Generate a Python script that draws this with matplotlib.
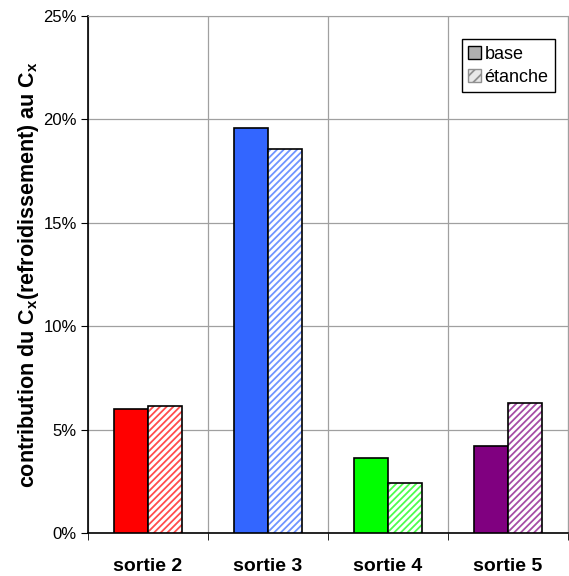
import numpy as np
import matplotlib
matplotlib.use("Agg")
import matplotlib.pyplot as plt
from matplotlib.patches import Patch
from matplotlib.colors import to_rgb

plt.rcParams['font.family'] = ['Liberation Sans', 'DejaVu Sans']
plt.rcParams['mathtext.fontset'] = 'custom'
plt.rcParams['mathtext.rm'] = 'Liberation Sans'
plt.rcParams['mathtext.bf'] = 'Liberation Sans:bold'
plt.rcParams['hatch.linewidth'] = 1.3

categories = ["sortie 2", "sortie 3", "sortie 4", "sortie 5"]
base = [6.0, 19.6, 3.65, 4.2]
etanche = [6.15, 18.55, 2.4, 6.3]
colors = ["#ff0000", "#3366ff", "#00ff00", "#800080"]

# lighter hatch colour, like the dithered pattern of the original
hatch_colors = [tuple(0.7 * np.array(to_rgb(c)) + 0.3) for c in colors]

fig = plt.figure(figsize=(5.69, 5.76), dpi=100)
ax = fig.add_axes([88/569, 43/576, 480/569, 517/576])

x = np.arange(len(categories))
w = 0.283

ax.bar(x - w/2, base, w, color=colors, edgecolor="black", linewidth=1.2, zorder=3)
# hatched bars: coloured hatch on white, then a black outline on top
ax.bar(x + w/2, etanche, w, color="white", edgecolor=hatch_colors, hatch="/////", linewidth=0, zorder=3)
ax.bar(x + w/2, etanche, w, fill=False, edgecolor="black", linewidth=1.2, zorder=4)

ax.set_xlim(-0.5, 3.5)
ax.set_ylim(0, 25)
ax.set_yticks(np.arange(0, 26, 5))
ax.set_yticklabels([f"{v}%" for v in range(0, 26, 5)], fontsize=12)
ax.set_xticks(x)
ax.set_xticklabels(categories, fontsize=14, fontweight="bold")
ax.tick_params(axis="x", length=0, pad=18)
ax.set_xticks(np.arange(-0.5, 4.0, 1), minor=True)
ax.tick_params(axis="x", which="minor", length=5, direction="out")
ax.tick_params(axis="y", length=5, direction="out", pad=3)

ax.grid(True, axis="y", color="#a0a0a0", linewidth=0.9, zorder=0)
ax.grid(True, axis="x", which="minor", color="#a0a0a0", linewidth=0.9, zorder=0)
for s in ["top", "right"]:
    ax.spines[s].set_color("#a0a0a0")
for s in ["left", "bottom"]:
    ax.spines[s].set_linewidth(1.2)

ax.set_ylabel(r"contribution du C$_{\mathbf{x}}$(refroidissement) au C$_{\mathbf{x}}$",
              fontsize=15.5, fontweight="bold", labelpad=2)

handles = [Patch(facecolor="#b0b0b0", edgecolor="black", label="base"),
           Patch(facecolor="#e8e8e8", edgecolor="#909090", hatch="///", label="étanche")]
leg = ax.legend(handles=handles, loc="upper right", bbox_to_anchor=(0.973, 0.955),
                fontsize=13, fancybox=False, framealpha=1, edgecolor="black",
                handlelength=0.7, handleheight=0.7, handletextpad=0.2,
                borderpad=0.35, labelspacing=0.35, borderaxespad=0)
leg.get_frame().set_linewidth(1.0)

fig.savefig("out.png", dpi=100)
